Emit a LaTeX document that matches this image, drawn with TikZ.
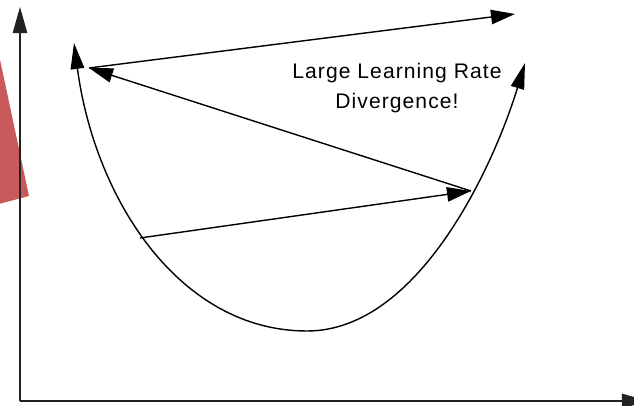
\documentclass[tikz,border=0pt]{standalone}
\usepackage{fontspec}
\setmainfont{Liberation Sans}
\newfontfamily\labelfont[LetterSpace=5]{Liberation Sans}
\usepackage{xcolor}
\definecolor{wedgered}{HTML}{C95A5C}
\definecolor{inkgray}{HTML}{222222}
\usetikzlibrary{arrows.meta}

\begin{document}
\begin{tikzpicture}[
  x=0.025cm, y=-0.025cm,
  axis/.style={draw=inkgray, line width=1.1pt, -{Triangle[length=0.65cm, width=0.36cm]}},
  curve/.style={draw=black, line width=1pt,
                {Triangle[length=0.65cm, width=0.34cm]}-{Triangle[length=0.65cm, width=0.34cm]}},
  jump/.style={draw=black, line width=1pt, -{Triangle[length=0.6cm, width=0.36cm]}},
  label/.style={font=\labelfont\fontsize{15}{21}\selectfont, align=center, inner sep=0pt},
]
\clip (0,0) rectangle (634,406);
\useasboundingbox (0,0) rectangle (634,406);

% red wedge at the left edge
\fill[wedgered] (-5,36) -- (29,196) -- (-5,205) -- cycle;

% axes
\coordinate (origin) at (20,401);
\coordinate (ytop)   at (20,7);
\coordinate (xend)   at (648,401);
\draw[axis] (origin) -- (ytop);
\draw[axis] (origin) -- (xend);

% loss curve
\coordinate (lefttip)  at (74,43);
\coordinate (bottom)   at (307,331);
\coordinate (righttip) at (525,63);
\draw[curve] (lefttip) .. controls (95,200) and (180,331) .. (bottom)
                       .. controls (420,331) and (495,162) .. (righttip);

% gradient steps
\coordinate (s1) at (140,238);
\coordinate (s2) at (471,191);
\coordinate (s3) at (89,68);
\coordinate (s4) at (515,14);
\draw[jump] (s1) -- (s2);
\draw[jump] (s2) -- (s3);
\draw[jump] (s3) -- (s4);

\node[label] (lbl) at (397,88) {Large Learning Rate\\Divergence!};

\end{tikzpicture}
\end{document}
